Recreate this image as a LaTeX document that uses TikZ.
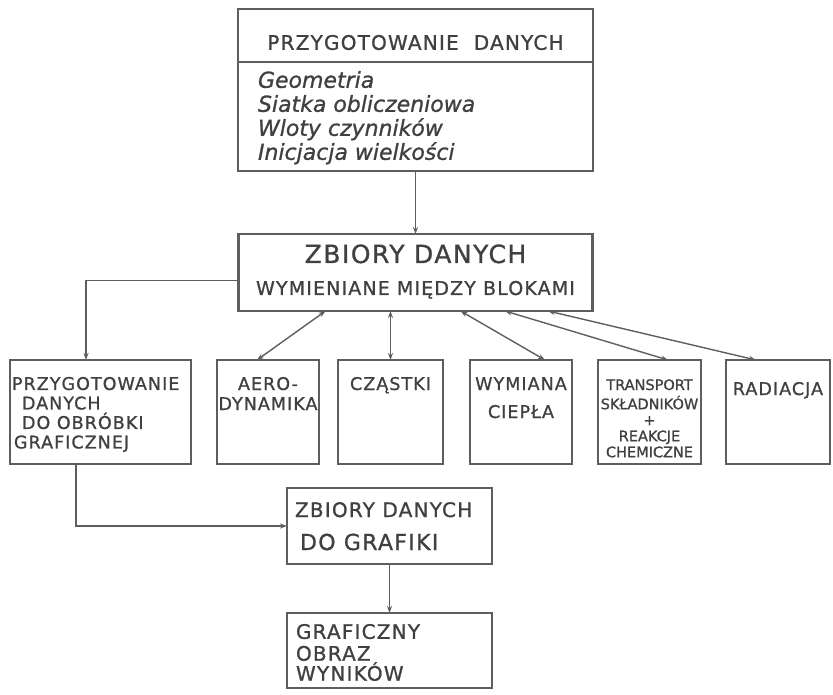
\documentclass[tikz,border=0pt]{standalone}
\usepackage{fontspec}
\setmainfont{DejaVu Sans}[FakeBold=1]
\newfontfamily\reka{DejaVu Sans}[LetterSpace=6, FakeBold=1]
\usetikzlibrary{positioning,arrows.meta}
\definecolor{olowek}{HTML}{5E5E5E}
\definecolor{tusz}{HTML}{404040}
\newcommand{\rozmiar}[2]{\fontsize{#1}{#2}\selectfont}
\newcommand{\kratka}[4]{\parbox[c][#2][t]{#1}{\vspace*{#3}#4}}

\begin{document}
\begin{tikzpicture}[x=1pt, y=-1pt, >={Stealth[length=7pt,width=5pt]},
    blok/.style={draw=olowek, line width=2.1pt, inner sep=0pt, outer sep=0pt, text=tusz, font=\reka},
    linia/.style={draw=olowek, line width=1.4pt}]
  \useasboundingbox (0,0) rectangle (833,695);

  \node[blok, anchor=north west] (T) at (238,9) {\kratka{355pt}{53pt}{24pt}{\centering\rozmiar{20}{24}\strut PRZYGOTOWANIE\ \ DANYCH}};
  \node[blok, below=0pt of T] (D) {\kratka{355pt}{109pt}{9pt}{\raggedright\leftskip=20pt\normalfont\itshape\rozmiar{22}{24}\strut Geometria\\Siatka obliczeniowa\\Wloty czynników\\Inicjacja wielkości}};
  \node[blok, below=63pt of D] (Z) {\kratka{354pt}{77pt}{6.6pt}{\centering\rozmiar{25}{32}\strut ZBIORY DANYCH\\\rozmiar{19}{32}WYMIENIANE MIĘDZY BLOKAMI}};

  \node[blok, anchor=north west] (P) at (10,360) {\kratka{181pt}{104pt}{16.3pt}{\raggedright\rozmiar{17.5}{19.5}\strut\hspace*{2pt}PRZYGOTOWANIE\\\hspace*{12pt}DANYCH\\\hspace*{12pt}DO OBRÓBKI\\\hspace*{4pt}GRAFICZNEJ}};
  \node[blok, right=26pt of P] (A) {\kratka{102pt}{104pt}{16pt}{\centering\rozmiar{17.5}{20}\strut AERO-\\DYNAMIKA}};
  \node[blok, right=19pt of A] (C) {\kratka{105pt}{104pt}{16pt}{\centering\rozmiar{17.5}{20}\strut CZĄSTKI}};
  \node[blok, right=27pt of C] (W) {\kratka{102pt}{104pt}{16pt}{\centering\rozmiar{17.5}{20}\strut WYMIANA\\[8pt]CIEPŁA}};
  \node[blok, right=26pt of W] (S) {\kratka{103pt}{104pt}{18.8pt}{\centering\normalfont\rozmiar{14.5}{16}\strut TRANSPORT\\SKŁADNIKÓW\\+\\REAKCJE\\CHEMICZNE}};
  \node[blok, right=25pt of S] (R) {\kratka{104pt}{104pt}{21pt}{\centering\rozmiar{17.5}{20}\strut RADIACJA}};

  \node[blok, anchor=north west] (G) at (287,488) {\kratka{205pt}{76pt}{5.9pt}{\raggedright\leftskip=8pt\rozmiar{20}{33}\strut ZBIORY DANYCH\\\rozmiar{22}{33}\hspace*{5pt}DO GRAFIKI}};
  \node[blok, below=49pt of G] (O) {\kratka{205pt}{75pt}{11pt}{\raggedright\leftskip=9pt\rozmiar{20}{20}\strut GRAFICZNY\\OBRAZ\\WYNIKÓW}};

  \draw[linia, ->] (D.south) -- (D.south |- Z.north);
  \draw[linia, ->] ([yshift=-8pt]Z.west) -| ([xshift=-14.5pt]P.north);
  \draw[linia, <->] ([xshift=87pt]Z.south west) -- ([xshift=40pt]A.north west);
  \draw[linia, <->] (C.north |- Z.south) -- (C.north);
  \draw[linia, <->] ([xshift=222pt]Z.south west) -- ([xshift=75pt]W.north west);
  \draw[linia, <->] ([xshift=266.5pt]Z.south west) -- ([xshift=70pt]S.north west);
  \draw[linia, <->] ([xshift=309.5pt]Z.south west) -- ([xshift=30pt]R.north west);
  \draw[linia, ->] ([xshift=-24.5pt]P.south) |- (G.west);
  \draw[linia, ->] (G.south) -- (O.north);
\end{tikzpicture}
\end{document}
